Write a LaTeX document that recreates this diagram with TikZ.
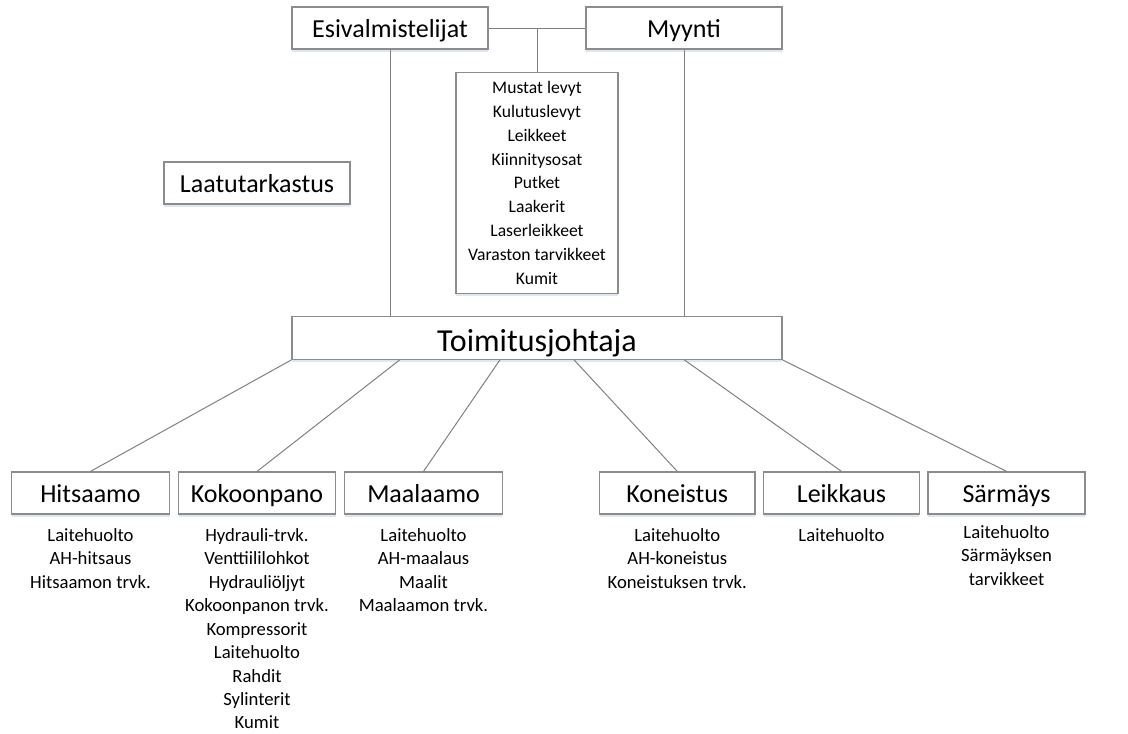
\documentclass[tikz,border=0pt]{standalone}
\usepackage{fontspec}
\setmainfont{Carlito}
\usetikzlibrary{calc,shadows}
\definecolor{edgegray}{RGB}{140,140,140}
\definecolor{linegray}{RGB}{128,128,128}
\definecolor{shadowblue}{RGB}{222,232,245}
\begin{document}
\begin{tikzpicture}[x=0.75pt,y=-0.75pt,
  box/.style={draw=edgegray, line width=0.9pt, fill=white, inner sep=0pt,
    minimum height=42*0.75pt, text height=14pt, text depth=0.5pt,
    drop shadow={shadow xshift=0pt, shadow yshift=-2pt, fill=shadowblue, opacity=1},
    font=\fontsize{19.5}{23}\selectfont},
  listbox/.style={box, align=center, text height=, text depth=, font=\fontsize{13.2}{17.85}\selectfont},
  items/.style={align=center, inner sep=0pt, anchor=north, font=\fontsize{14}{17.6}\selectfont},
  conn/.style={draw=linegray, line width=0.75pt}]
\useasboundingbox (0,0) rectangle (1128,733);

% top row
\node[box, minimum width=196*0.75pt] (E) at (390,28) {Esivalmistelijat};
\node[box, minimum width=196*0.75pt] (M) at (684,28) {Myynti};
\node[listbox, minimum width=162*0.75pt, minimum height=221*0.75pt] (L) at (537,182.8)
  {Mustat levyt\\Kulutuslevyt\\Leikkeet\\Kiinnitysosat\\Putket\\Laakerit\\Laserleikkeet\\Varaston tarvikkeet\\Kumit};
\node[box, minimum width=186*0.75pt] (Q) at (257,183) {Laatutarkastus};

% CEO
\node[box, minimum width=490*0.75pt, minimum height=42.6*0.75pt,
  text height=19.5pt, text depth=0pt,
  font=\fontsize{24}{28}\selectfont] (T) at (537,338) {Toimitusjohtaja};

% departments
\node[box, minimum width=158*0.75pt] (H) at (90.5,493) {Hitsaamo};
\node[box, minimum width=157*0.75pt] (K) at (257,493) {Kokoonpano};
\node[box, minimum width=157.6*0.75pt] (Ma) at (423.5,493) {Maalaamo};
\node[box, minimum width=155.3*0.75pt] (Ko) at (677.3,493) {Koneistus};
\node[box, minimum width=155.6*0.75pt] (Le) at (841.5,493) {Leikkaus};
\node[box, minimum width=157*0.75pt] (S) at (1006.5,493) {Särmäys};

% item lists
\node[items] (Hi) at (90.5,528) {Laitehuolto\\AH-hitsaus\\Hitsaamon trvk.};
\node[items] (Ki) at (257,528) {Hydrauli-trvk.\\Venttiililohkot\\Hydrauliöljyt\\Kokoonpanon trvk.\\Kompressorit\\Laitehuolto\\Rahdit\\Sylinterit\\Kumit};
\node[items] (Mai) at (423.5,528) {Laitehuolto\\AH-maalaus\\Maalit\\Maalaamon trvk.};
\node[items] (Koi) at (677.3,528) {Laitehuolto\\AH-koneistus\\Koneistuksen trvk.};
\node[items] (Lei) at (841.5,528) {Laitehuolto};
\node[items] (Si) at (1006.5,525) {Laitehuolto\\Särmäyksen\\tarvikkeet};

% connectors
\path (E.east) -- (M.west) coordinate[pos=0.5] (mid);
\draw[conn] (E.east) -- (M.west);
\draw[conn] (mid) -- (mid |- L.north);
\draw[conn] (E.south) -- (E.south |- T.north);
\draw[conn] (M.south) -- (M.south |- T.north);
\coordinate (t1) at (T.south west);
\coordinate (t2) at ($(T.south west)!0.2204!(T.south east)$);
\coordinate (t3) at ($(T.south west)!0.4245!(T.south east)$);
\coordinate (t4) at ($(T.south west)!0.5755!(T.south east)$);
\coordinate (t5) at ($(T.south west)!0.80!(T.south east)$);
\coordinate (t6) at (T.south east);
\draw[conn] (t1) -- (H.north);
\draw[conn] (t2) -- (K.north);
\draw[conn] (t3) -- (Ma.north);
\draw[conn] (t4) -- (Ko.north);
\draw[conn] (t5) -- (Le.north);
\draw[conn] (t6) -- (S.north);
\end{tikzpicture}
\end{document}
